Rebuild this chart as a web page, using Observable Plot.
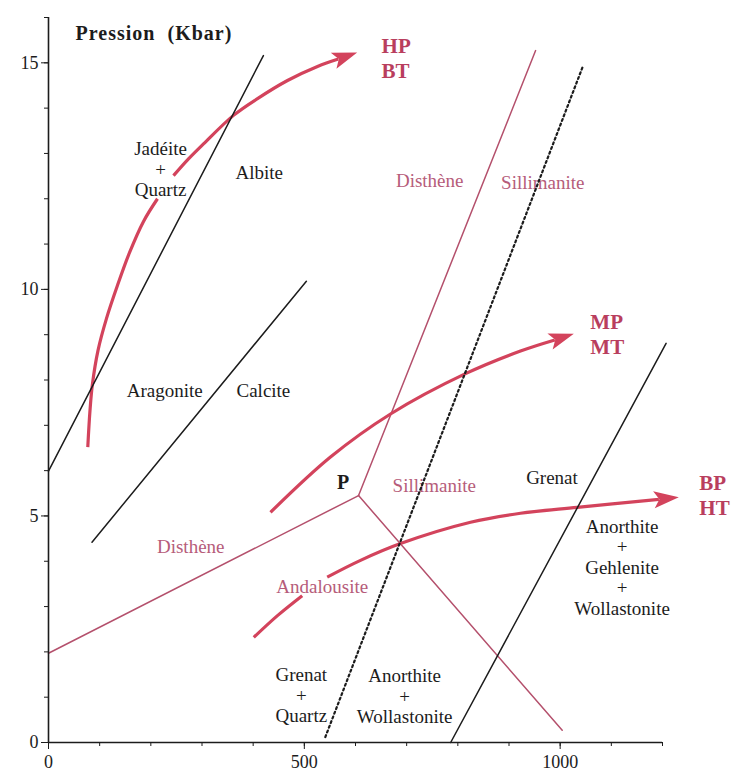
<!DOCTYPE html>
<html>
<head>
<meta charset="utf-8">
<script src="https://cdn.jsdelivr.net/npm/d3@7"></script>
<script src="https://cdn.jsdelivr.net/npm/@observablehq/plot@0.6"></script>
<style>
html, body { margin: 0; padding: 0; background: #fff; overflow: hidden; }
</style>
</head>
<body>
<div id="chart"></div>
<script>
// ---------- data (T in °C, P in kbar) ----------
const xTicksMajor = [0, 500, 1000];
const xTicksMinor = [0, 100, 200, 300, 400, 500, 600, 700, 800, 900, 1000, 1100, 1200];
const yTicksMajor = [0, 5, 10, 15];
const yTicksMinor = [0, 1, 2, 3, 4, 5, 6, 7, 8, 9, 10, 11, 12, 13, 14, 15, 16];

// black reaction curves
const jadeiteAlbite    = [{t: 0, p: 5.99}, {t: 420, p: 15.16}];
const aragoniteCalcite = [{t: 85, p: 4.42}, {t: 504, p: 10.18}];
const grenatAnorthite  = [{t: 786, p: 0}, {t: 1207, p: 8.81}];
const grenatQuartz     = [{t: 541, p: 0.12}, {t: 1045, p: 14.94}];   // dotted

// Al2SiO5 triple point and boundaries
const tripleP = {t: 606, p: 5.45};
const kyaniteAndalusite   = [{t: 0, p: 1.97}, tripleP];
const kyaniteSillimanite  = [tripleP, {t: 952, p: 15.27}];
const andalusiteSillimanite = [tripleP, {t: 1004, p: 0.27}];

// metamorphic gradient arrows
const hpArrowA = [
  {t: 76.8, p: 6.52}, {t: 81.1, p: 7.33}, {t: 86.0, p: 7.92}, {t: 96.7, p: 8.65},
  {t: 113.4, p: 9.36}, {t: 134.9, p: 10.09}, {t: 158.3, p: 10.81}, {t: 185.7, p: 11.50},
  {t: 213.0, p: 12.00}
];
const hpArrowB = [
  {t: 244.3, p: 12.51}, {t: 273.6, p: 12.88}, {t: 302.9, p: 13.21}, {t: 361.6, p: 13.84},
  {t: 408.5, p: 14.21}, {t: 467.1, p: 14.61}, {t: 525.7, p: 14.92}, {t: 603.3, p: 15.23}
];
const mpArrow = [
  {t: 433.9, p: 5.08}, {t: 551.1, p: 6.30}, {t: 668.4, p: 7.25}, {t: 815.0, p: 8.14},
  {t: 922.5, p: 8.64}, {t: 1026.7, p: 9.02}
];
const bpArrowA = [{t: 401.2, p: 2.32}, {t: 447.5, p: 2.80}, {t: 495.8, p: 3.24}];
const bpArrowB = [
  {t: 544.7, p: 3.65}, {t: 609.8, p: 4.02}, {t: 688.0, p: 4.39}, {t: 824.8, p: 4.86},
  {t: 922.5, p: 5.06}, {t: 1033.3, p: 5.19}, {t: 1231.9, p: 5.41}
];

// labels
const blackLabels = [
  {t: 219, p: 12.65, text: "Jadéite\n+\nQuartz"},
  {t: 412, p: 12.58, text: "Albite"},
  {t: 227, p: 7.77, text: "Aragonite"},
  {t: 420, p: 7.77, text: "Calcite"},
  {t: 984, p: 5.85, text: "Grenat"},
  {t: 494, p: 1.04, text: "Grenat\n+\nQuartz"},
  {t: 696, p: 1.02, text: "Anorthite\n+\nWollastonite"},
  {t: 1121, p: 3.87, text: "Anorthite\n+\nGehlenite\n+\nWollastonite"}
];
const pinkLabels = [
  {t: 745, p: 12.40, text: "Disthène"},
  {t: 966, p: 12.36, text: "Sillimanite"},
  {t: 754, p: 5.67, text: "Sillimanite"},
  {t: 278, p: 4.31, text: "Disthène"},
  {t: 535, p: 3.43, text: "Andalousite"}
];
const gradientLabels = [
  {t: 651, p: 15.11, text: "HP\nBT"},
  {t: 1059, p: 9.03, text: "MP\nMT"},
  {t: 1272, p: 5.47, text: "BP\nHT"}
];
const pointLabel = [{t: 576, p: 5.74, text: "P"}];
const axisTitle = [{t: 53, p: 15.64, text: "Pression  (Kbar)"}];

// ---------- layout & styling ----------
const W = 731, H = 775, ML = 48, MR = 69, MT = 17, MB = 33;
const xDomain = [0, 1200], yDomain = [0, 16];
const serif = "'Liberation Serif', 'DejaVu Serif', serif";
const ink = "#1c1c1c";
const roseLine = "#b4506c";
const roseText = "#b65c7a";
const arrowRed = "#d3435c";
const labelRed = "#b93e5e";

// replicate Plot's linear scales to orient the arrow heads
const xs = d3.scaleLinear(xDomain, [ML, W - MR]);
const ys = d3.scaleLinear(yDomain, [H - MB, MT]);
const HEAD = 25;

function headSymbol(angle) {
  const c = Math.cos(angle), s = Math.sin(angle);
  const pt = (a, b) => [a * c - b * s, a * s + b * c];
  return {
    draw(ctx) {
      const L = HEAD, Wd = 8.5, N = HEAD * 0.78;
      ctx.moveTo(0, 0);
      let q = pt(-L, -Wd); ctx.lineTo(q[0], q[1]);
      q = pt(-N, 0); ctx.lineTo(q[0], q[1]);
      q = pt(-L, Wd); ctx.lineTo(q[0], q[1]);
      ctx.closePath();
    }
  };
}

function arrowParts(pts) {
  const tip = pts[pts.length - 1], prev = pts[pts.length - 2];
  const dx = xs(tip.t) - xs(prev.t), dy = ys(tip.p) - ys(prev.p);
  const ang = Math.atan2(dy, dx);
  const nx = xs(tip.t) - Math.cos(ang) * HEAD * 0.8;
  const ny = ys(tip.p) - Math.sin(ang) * HEAD * 0.8;
  return {angle: ang, tip, line: [...pts.slice(0, -1), {t: xs.invert(nx), p: ys.invert(ny)}]};
}

const hp = arrowParts(hpArrowB), mp = arrowParts(mpArrow), bp = arrowParts(bpArrowB);

const arrowLine = (data) => Plot.line(data, {
  x: "t", y: "p", curve: "catmull-rom", stroke: arrowRed, strokeWidth: 3.2, strokeLinecap: "butt"
});
const arrowHead = (a) => Plot.dot([a.tip], {
  x: "t", y: "p", r: 5, symbol: headSymbol(a.angle), fill: arrowRed, stroke: "none"
});
const straight = (data, color, extra = {}) => Plot.line(data, {
  x: "t", y: "p", stroke: color, strokeWidth: 1.5, ...extra
});

const chart = Plot.plot({
  width: W, height: H,
  marginLeft: ML, marginRight: MR, marginTop: MT, marginBottom: MB,
  x: {domain: xDomain, label: null},
  y: {domain: yDomain, label: null},
  style: {fontFamily: serif, fontSize: "18px", color: ink, background: "#fff"},
  marks: [
    // aluminosilicate boundaries
    straight(kyaniteAndalusite, roseLine),
    straight(kyaniteSillimanite, roseLine),
    straight(andalusiteSillimanite, roseLine),
    // gradient arrows
    arrowLine(hpArrowA), arrowLine(hp.line), arrowHead(hp),
    arrowLine(mp.line), arrowHead(mp),
    arrowLine(bpArrowA), arrowLine(bp.line), arrowHead(bp),
    // labels
    Plot.text(blackLabels, {x: "t", y: "p", text: "text", fill: ink, fontSize: 19, lineHeight: 1.08}),
    Plot.text(pinkLabels, {x: "t", y: "p", text: "text", fill: roseText, fontSize: 19}),
    Plot.text(gradientLabels, {x: "t", y: "p", text: "text", fill: labelRed, fontSize: 21,
      fontWeight: "bold", textAnchor: "start", lineHeight: 1.2}),
    Plot.text(pointLabel, {x: "t", y: "p", text: "text", fill: ink, fontSize: 20, fontWeight: "bold"}),
    Plot.text(axisTitle, {x: "t", y: "p", text: "text", fill: ink, fontSize: 20, fontWeight: "bold",
      textAnchor: "start"}),
    // black reaction lines
    straight(jadeiteAlbite, ink),
    straight(aragoniteCalcite, ink),
    straight(grenatAnorthite, ink),
    straight(grenatQuartz, ink, {strokeWidth: 2.2, strokeDasharray: "2,3"}),
    // axes
    Plot.ruleX([0], {stroke: ink, strokeWidth: 1.6}),
    Plot.ruleY([0], {stroke: ink, strokeWidth: 1.6}),
    Plot.axisY(yTicksMinor, {tickSize: 4, tickFormat: () => "", stroke: ink}),
    Plot.axisY(yTicksMajor, {tickSize: 7, tickPadding: 3, stroke: ink, fill: ink, tickFormat: d3.format("d")}),
    Plot.axisX(xTicksMinor, {tickSize: 4, tickFormat: () => "", stroke: ink}),
    Plot.axisX(xTicksMajor, {tickSize: 7, tickPadding: 6, stroke: ink, fill: ink, tickFormat: d3.format("d")})
  ]
});

document.getElementById("chart").appendChild(chart);

// widen the axis title a little, as in the printed figure
d3.select(chart).selectAll("text")
  .filter(function () { return this.textContent.startsWith("Pression"); })
  .attr("letter-spacing", "1px");
</script>
</body>
</html>
